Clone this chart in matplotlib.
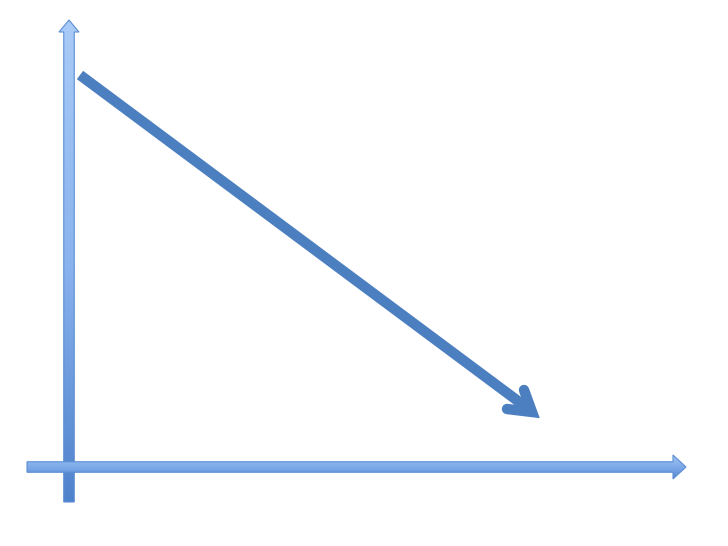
import numpy as np
import matplotlib.pyplot as plt
from matplotlib.patches import Polygon
from matplotlib.colors import LinearSegmentedColormap

# canvas in pixel units (728 x 546), y grows downward
W, H = 728, 546

# vertical axis arrow: shaft x center, bottom y, tip y
y_axis_x = 69
y_axis_bottom = 502
y_axis_tip = 20

# horizontal axis arrow: shaft y center, left x, tip x
x_axis_y = 467
x_axis_left = 27
x_axis_tip = 686

# trend arrow: start point and tip point, and arrow arm ends
trend_x = [80, 530]
trend_y = [75, 410]
head_arm_x = [524, 532, 507]
head_arm_y = [390, 412, 409]

shaft_w = 10.5
head_w = 24
head_len = 12

edge = "#5d8fd3"

fig = plt.figure(figsize=(7.28, 5.46), dpi=100)
ax = fig.add_axes([0, 0, 1, 1])
ax.set_xlim(0, W)
ax.set_ylim(H, 0)
ax.axis("off")


def vertical_arrow():
    x0 = y_axis_x - shaft_w / 2
    x1 = y_axis_x + shaft_w / 2
    hb = y_axis_tip + head_len
    pts = [(x0, y_axis_bottom), (x0, hb), (y_axis_x - head_w / 2 + 2, hb),
           (y_axis_x, y_axis_tip), (y_axis_x + head_w / 2 - 2, hb),
           (x1, hb), (x1, y_axis_bottom)]
    poly = Polygon(pts, closed=True, facecolor="none", edgecolor=edge, lw=0.8, zorder=3)
    ax.add_patch(poly)
    grad = np.linspace(0, 1, 256).reshape(-1, 1)
    cmap = LinearSegmentedColormap.from_list("v", ["#a9cbf7", "#8ab4ee", "#4f82cc"])
    im = ax.imshow(grad, cmap=cmap, aspect="auto",
                   extent=[y_axis_x - 15, y_axis_x + 15, y_axis_bottom, y_axis_tip],
                   origin="upper", zorder=2)
    im.set_clip_path(poly)


def horizontal_arrow():
    y0 = x_axis_y - shaft_w / 2
    y1 = x_axis_y + shaft_w / 2
    hb = x_axis_tip - head_len - 1
    pts = [(x_axis_left, y0), (hb, y0), (hb, x_axis_y - head_w / 2),
           (x_axis_tip, x_axis_y), (hb, x_axis_y + head_w / 2),
           (hb, y1), (x_axis_left, y1)]
    poly = Polygon(pts, closed=True, facecolor="none", edgecolor=edge, lw=0.8, zorder=5)
    ax.add_patch(poly)
    grad = np.linspace(0, 1, 256).reshape(-1, 1)
    cmap = LinearSegmentedColormap.from_list("h", ["#a3c6f5", "#7eaaea", "#4f82cc"])
    im = ax.imshow(grad, cmap=cmap, aspect="auto",
                   extent=[x_axis_left - 2, x_axis_tip + 2, x_axis_y + 14, x_axis_y - 14],
                   origin="upper", zorder=4)
    im.set_clip_path(poly)


vertical_arrow()
horizontal_arrow()

# trend arrow
blue = "#4c7fc0"
ax.plot(trend_x, trend_y, color=blue, lw=7.5, solid_capstyle="butt", zorder=6)
ax.plot(head_arm_x, head_arm_y, color=blue, lw=7.5, solid_capstyle="round",
        solid_joinstyle="miter", zorder=6)

fig.savefig("out.png", dpi=100, facecolor="white")
